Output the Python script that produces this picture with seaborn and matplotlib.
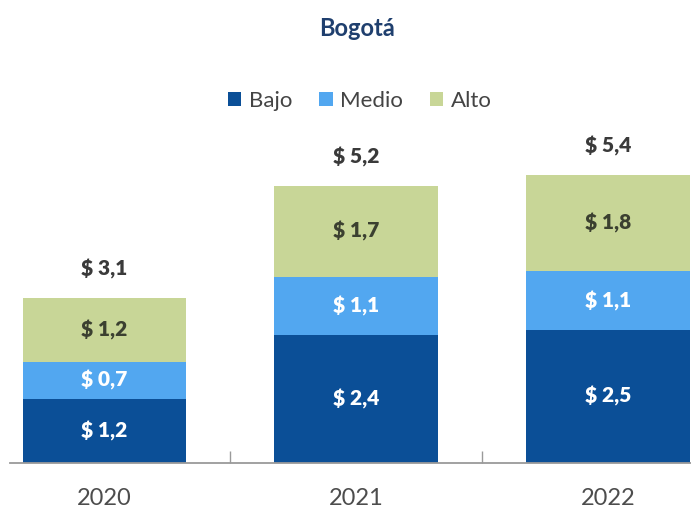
import matplotlib
matplotlib.use("Agg")
import matplotlib.pyplot as plt
import seaborn as sns
import numpy as np
import pandas as pd
from matplotlib.patches import Patch
from matplotlib.ticker import FixedLocator

years = ["2020", "2021", "2022"]
bajo = [1.2, 2.4, 2.5]
medio = [0.7, 1.1, 1.1]
alto = [1.2, 1.7, 1.8]
totals = [3.1, 5.2, 5.4]
series_names = ["Bajo", "Medio", "Alto"]
series_colors = ["#0b4f97", "#52a7f0", "#c8d697"]
label_colors = ["white", "white", "#3b4030"]

sns.set_theme(style="white")
plt.rcParams["font.family"] = ["Lato", "DejaVu Sans"]

df = pd.DataFrame({"year": years, "Bajo": bajo, "Medio": medio, "Alto": alto})
df["c_bajo"] = df["Bajo"]
df["c_medio"] = df["Bajo"] + df["Medio"]
df["c_alto"] = df["c_medio"] + df["Alto"]

fig = plt.figure(figsize=(6.91, 5.12), dpi=100)
ax = fig.add_axes([10 / 691, 49 / 512, 681 / 691, 319.5 / 512])

# stacked bars: draw cumulative heights from the top layer down
for col, color in zip(["c_alto", "c_medio", "c_bajo"], series_colors[::-1]):
    sns.barplot(data=df, x="year", y=col, color=color, width=0.65,
                saturation=1, ax=ax, linewidth=0, order=years)

ax.set_xlim(-0.375, 2.33)
ax.set_ylim(0, 6)
ax.set_xlabel("")
ax.set_ylabel("")
ax.set_yticks([])
for s in ["left", "right", "top"]:
    ax.spines[s].set_visible(False)
ax.spines["bottom"].set_color("#9a9a9a")
ax.spines["bottom"].set_linewidth(1.3)
ax.tick_params(axis="x", which="major", length=0, pad=18, labelsize=17,
               labelcolor="#4d4d4d")
ax.xaxis.set_minor_locator(FixedLocator([0.5, 1.5]))
ax.tick_params(axis="x", which="minor", bottom=True, direction="in",
               length=9, width=1, color="#9a9a9a")


def fmt(v):
    return "$ " + f"{v:.1f}".replace(".", ",")


for i in range(len(years)):
    bottom = 0.0
    for vals, lc in zip([bajo, medio, alto], label_colors):
        v = vals[i]
        ax.text(i, bottom + v / 2, fmt(v), ha="center", va="center",
                fontsize=15, fontweight="heavy", color=lc)
        bottom += v
    ax.text(i, totals[i] + 0.55, fmt(totals[i]), ha="center", va="center",
            fontsize=15, fontweight="heavy", color="#3a3a3a")

fig.text(357 / 691, 1 - 29 / 512, "Bogotá", ha="center", va="center",
         fontsize=17, fontweight="bold", color="#1f3f6e")

handles = [Patch(facecolor=c, edgecolor="none") for c in series_colors]
fig.legend(handles, series_names, loc="center", ncol=3,
           bbox_to_anchor=(360 / 691, 1 - 101 / 512), frameon=False,
           fontsize=16, labelcolor="#444444", handlelength=0.6,
           handleheight=0.6, handletextpad=0.35, columnspacing=1.2)

fig.savefig("out.png", dpi=100)
